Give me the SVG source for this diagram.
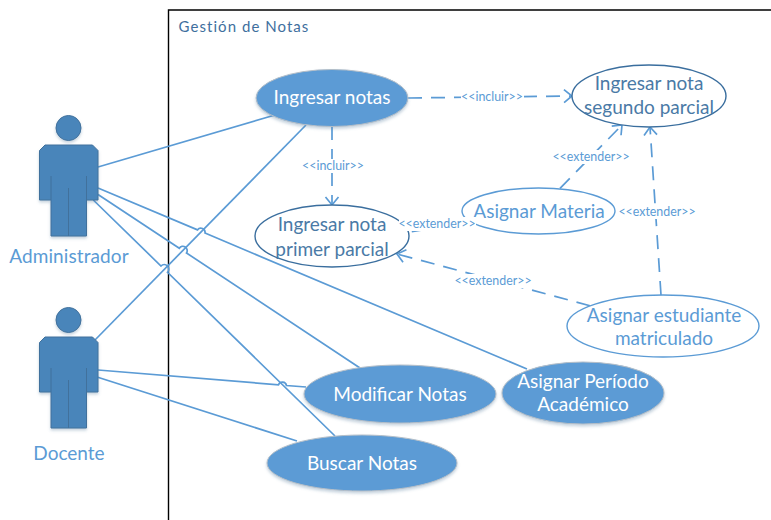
<svg xmlns="http://www.w3.org/2000/svg" width="771" height="520" viewBox="0 0 771 520">
<style>
text{font-family:"Lato","Open Sans","Liberation Sans",sans-serif;text-anchor:middle}
.frame{fill:none;stroke:#000;stroke-width:1.4}
.line{fill:none;stroke:#5B9BD5;stroke-width:1.7}
.dash{fill:none;stroke:#5B9BD5;stroke-width:1.7;stroke-dasharray:14 9}
.arrow{marker-end:url(#open)}
.lbl{font-size:12.4px;fill:#5B9BD5}
.lblbg{fill:#fff}
.solid{fill:#5B9BD5;stroke:#B4BEC8;stroke-width:1;filter:url(#sh)}
.solidt{font-size:19px;fill:#fff}
.dark{fill:#fff;stroke:#3A6E9E;stroke-width:1.4}
.darkt{font-size:19px;fill:#4A7AA6}
.light{fill:#fff;stroke:#5B9BD5;stroke-width:1.4}
.lightt{font-size:19px;fill:#5B9BD5}
.act{fill:#4A85BA;stroke:#41719C;stroke-width:1;filter:url(#sh)}
.actl{fill:none;stroke:#41719C;stroke-width:1}
.actt{font-size:19px;fill:#5B9BD5}
</style>
<defs>
<filter id="sh" x="-10%" y="-10%" width="120%" height="125%"><feDropShadow dx="0" dy="2" stdDeviation="1.6" flood-color="#5B7FA0" flood-opacity=".35"/></filter>
<marker id="open" markerUnits="userSpaceOnUse" markerWidth="16" markerHeight="16" refX="11" refY="8" orient="auto"><path d="M3 1.5L11 8L3 14.5" fill="none" stroke="#5B9BD5" stroke-width="1.7"/></marker>
<g id="actorShape">
<circle class="act" cx="68.5" cy="128" r="12.5"/>
<path class="act" d="M45 145H92.500L98 150.500V200H86.500V236H51V200H39.500V150.500Z"/>
<path class="actl" d="M51 176V200M86.500 176V200M68.500 188V236"/>
</g>
</defs>
<rect width="771" height="520" fill="#fff"/>
<path class="frame" d="M771 10H168.500V520"/>
<text x="244" y="32" style="font-size:15px;letter-spacing:1.05px;fill:#3F6F9E">Gestión de Notas</text>
<g id="connectors">
<path class="line" d="M98 167L275 115"/>
<path class="line" d="M95 340L306 125"/>
<path class="line" d="M98 188L197.500 229.900A4.200 4.200 0 0 1 205 233.100L527 369"/>
<path class="line" d="M98 194.500L179.300 248.300A4.200 4.200 0 0 1 186.500 253L360 368"/>
<path class="line" d="M93.300 200L161 266A4.200 4.200 0 0 1 167.500 272.300L335 436"/>
<path class="line" d="M98 370L278.500 384.800A4.200 4.200 0 0 1 286.500 385.500L306 387"/>
<path class="line" d="M97 377L297 441"/>
<path class="dash arrow" d="M408 98L572 96"/>
<path class="dash arrow" d="M332 126V205"/>
<path class="dash" d="M471 222L403 233"/>
<path class="dash arrow" d="M590 305.700L397 254"/>
<path class="dash arrow" d="M560 188.300L622 125"/>
<path class="dash arrow" d="M661 295L650 127"/>
</g>
<g id="actor-administrador">
<use href="#actorShape"/>
<text class="actt" x="69" y="263" style="letter-spacing:.1px">Administrador</text>
</g>
<g id="actor-docente">
<use href="#actorShape" y="192"/>
<text class="actt" x="69" y="460">Docente</text>
</g>
<g id="uc-ingresar-notas"><ellipse class="solid" cx="332" cy="98" rx="76" ry="28.500"/><text class="solidt" x="332" y="104">Ingresar notas</text></g>
<g id="uc-primer"><ellipse class="dark" cx="332" cy="236" rx="77" ry="31"/><text class="darkt" x="332" y="231">Ingresar nota</text><text class="darkt" x="332" y="256">primer parcial</text></g>
<g id="uc-segundo"><ellipse class="dark" cx="649" cy="96" rx="77" ry="31"/><text class="darkt" x="649" y="90">Ingresar nota</text><text class="darkt" x="649" y="114">segundo parcial</text></g>
<g id="uc-materia"><ellipse class="light" cx="538.500" cy="211" rx="76.500" ry="23"/><text class="lightt" x="539" y="218">Asignar Materia</text></g>
<g id="uc-estudiante"><ellipse class="light" cx="663" cy="326" rx="96" ry="31"/><text class="lightt" x="664" y="322">Asignar estudiante</text><text class="lightt" x="664" y="345">matriculado</text></g>
<g id="uc-modificar"><ellipse class="solid" cx="400" cy="394" rx="96" ry="29"/><text class="solidt" x="400" y="401">Modificar Notas</text></g>
<g id="uc-periodo"><ellipse class="solid" cx="583" cy="393" rx="81" ry="31"/><text class="solidt" x="583" y="388">Asignar Período</text><text class="solidt" x="583" y="411">Académico</text></g>
<g id="uc-buscar"><ellipse class="solid" cx="362" cy="463" rx="95" ry="28"/><text class="solidt" x="362" y="470">Buscar Notas</text></g>
<g id="labels">
<rect class="lblbg" x="461" y="90" width="63" height="14"/><text class="lbl" x="492" y="101">&lt;&lt;incluir&gt;&gt;</text>
<rect class="lblbg" x="302" y="159" width="62" height="14"/><text class="lbl" x="333" y="170">&lt;&lt;incluir&gt;&gt;</text>
<rect class="lblbg" x="399" y="217" width="77" height="14"/><text class="lbl" x="437" y="228">&lt;&lt;extender&gt;&gt;</text>
<rect class="lblbg" x="455" y="274" width="77" height="14"/><text class="lbl" x="493" y="285">&lt;&lt;extender&gt;&gt;</text>
<rect class="lblbg" x="552" y="150" width="78" height="14"/><text class="lbl" x="591" y="161">&lt;&lt;extender&gt;&gt;</text>
<rect class="lblbg" x="618" y="205" width="78" height="14"/><text class="lbl" x="657" y="216">&lt;&lt;extender&gt;&gt;</text>
</g>
</svg>
